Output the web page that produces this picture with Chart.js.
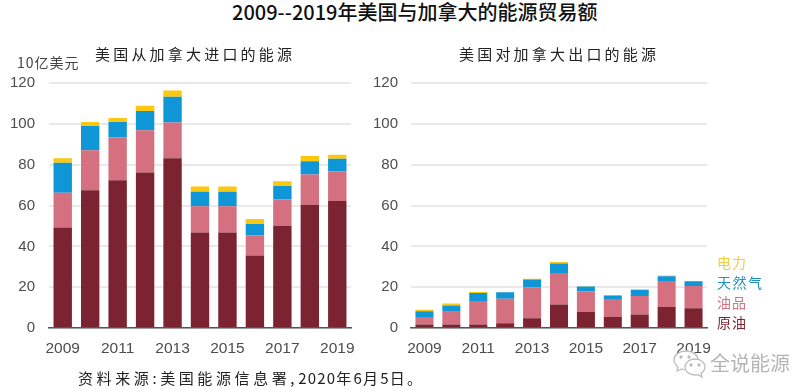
<!DOCTYPE html>
<html lang="zh">
<head>
<meta charset="utf-8">
<style>
html,body{margin:0;padding:0;background:#fff;width:800px;height:390px;overflow:hidden}
body{position:relative;font-family:"Noto Sans CJK SC","Noto Sans",sans-serif}
canvas{position:absolute}
.t{position:absolute;white-space:nowrap;line-height:1}
.d{letter-spacing:1.2px}
.c{letter-spacing:2.2px}
#wm{position:absolute;left:672px;top:349px}
</style>
<script src="https://cdn.jsdelivr.net/npm/chart.js@4/dist/chart.umd.min.js"></script>
</head>
<body>
<canvas id="left" width="400" height="330" style="left:0;top:60px"></canvas>
<canvas id="right" width="438" height="330" style="left:362px;top:60px"></canvas>

<div class="t" style="left:232px;top:2px;font-size:20px;font-weight:500;color:#111">2009--2019年美国与加拿大的能源贸易额</div>
<div class="t" style="left:95px;top:46px;font-size:15px;letter-spacing:3.2px;color:#222">美国从加拿大进口的能源</div>
<div class="t" style="left:459px;top:46px;font-size:15px;letter-spacing:3.2px;color:#222">美国对加拿大出口的能源</div>
<div class="t" style="left:17px;top:55px;font-size:14px;letter-spacing:1px;color:#444">10亿美元</div>
<div class="t" style="left:717px;top:255px;font-size:14px;letter-spacing:1px;color:#f3cd3a">电力</div>
<div class="t" style="left:717px;top:275px;font-size:14px;letter-spacing:1.500px;color:#1f8fc0">天然气</div>
<div class="t" style="left:717px;top:295px;font-size:14px;letter-spacing:1px;color:#cf7585">油品</div>
<div class="t" style="left:717px;top:315px;font-size:14px;letter-spacing:1px;color:#7b2330">原油</div>
<div class="t" style="left:78px;top:370px;font-size:15px;color:#222"><span style="letter-spacing:3.6px">资料来源:美国能源信息署,</span><span class="d">2020</span><span class="c">年</span><span class="d">6</span><span class="c">月</span><span class="d">5</span><span class="c">日。</span></div>
<svg id="wm" width="36" height="30" viewBox="0 0 36 30" fill="#fff" stroke="#bdbdbd" stroke-width="1.3">
  <path d="M14 2C7 2 2 6 2 11c0 3 2 5 4 7l-1 4 5-2c1 .4 3 .6 4 .6C21 21 26 16 26 11S21 2 14 2z"/>
  <path d="M23 10c-6 0-10 4-10 8s4 8 10 8c1 0 2 0 3-.4l4 2.400-1-3.500c2-1.500 4-3.500 4-6.500 0-4-4-8-10-8z"/>
  <circle cx="9" cy="8" r="1" fill="#bdbdbd"/><circle cx="17" cy="8" r="1" fill="#bdbdbd"/>
  <circle cx="19" cy="16" r="1" fill="#bdbdbd"/><circle cx="27" cy="16" r="1" fill="#bdbdbd"/>
</svg>
<div class="t" style="left:710px;top:353px;font-size:20px;color:#b5b5b5">全说能源</div>

<script>
const categories = ["2009","2010","2011","2012","2013","2014","2015","2016","2017","2018","2019"];
const yTicks = [0,20,40,60,80,100,120];
const seriesNames = ["原油","油品","天然气","电力"];

const importCrude    = [49.3,67.6,72.5,76.3,83.2,46.8,46.8,35.5,50.0,60.4,62.3];
const importProducts = [17.0,19.6,21.0,20.7,17.6,12.9,12.9, 9.9,13.0,14.9,14.5];
const importGas      = [14.7,11.8, 7.5, 9.4,12.6, 7.1, 7.1, 5.6, 6.6, 6.5, 6.2];
const importPower    = [ 2.3, 2.0, 2.0, 2.6, 3.1, 2.6, 2.6, 2.5, 2.4, 2.5, 2.0];

const exportCrude    = [1.7,1.7,1.7,2.3,4.8,11.5,7.9,5.4,6.6,10.3,9.7];
const exportProducts = [3.7,6.3,11.6,12.1,15.2,15.5,10.0,8.8,9.1,12.7,10.9];
const exportGas      = [2.8,3.0,3.9,3.1,3.8,4.6,2.4,1.7,3.0,2.4,2.3];
const exportPower    = [0.8,1.0,0.5,0.2,0.4,0.8,0.2,0.1,0.2,0.3,0.1];

const seriesColors = ["#7b2330","#d4707f","#0f96d6","#fbc80e"];

function makeChart(id, values, padRight, yPad, areaLeft){
  const yFont = {family:'"Liberation Sans",Arial,sans-serif', size:15};
  const xFont = {family:'"Liberation Sans",Arial,sans-serif', size:15.5};
  return new Chart(document.getElementById(id), {
    type:'bar',
    data:{
      labels:categories,
      datasets:values.map((v,i)=>({
        label:seriesNames[i], data:v, backgroundColor:seriesColors[i],
        barPercentage:0.67, categoryPercentage:1, borderWidth:0
      }))
    },
    options:{
      responsive:false, animation:false,
      layout:{padding:{top:23.3,bottom:20,left:0,right:padRight}},
      plugins:{legend:{display:false},title:{display:false},tooltip:{enabled:false}},
      scales:{
        x:{
          stacked:true,
          grid:{display:false,drawTicks:false,tickLength:0},
          border:{display:true,color:'#555',width:1.5},
          ticks:{
            font:xFont,color:'#4d4d4d',padding:11,
            autoSkip:false,maxRotation:0,minRotation:0,
            callback:function(val,idx){return idx%2===0?categories[idx]:'';}
          },
          afterFit:s=>{s.height=42;}
        },
        y:{
          stacked:true,min:0,max:120,
          grid:{color:'#e9e9e9',lineWidth:2,drawTicks:false,tickLength:0},
          border:{display:false},
          afterBuildTicks:s=>{s.ticks=yTicks.map(v=>({value:v}));},
          ticks:{font:yFont,color:'#4d4d4d',padding:yPad},
          afterFit:s=>{s.width=areaLeft;}
        }
      }
    }
  });
}
makeChart('left',[importCrude,importProducts,importGas,importPower],49,14,49);
makeChart('right',[exportCrude,exportProducts,exportGas,exportPower],93,13,49);
</script>
</body>
</html>
